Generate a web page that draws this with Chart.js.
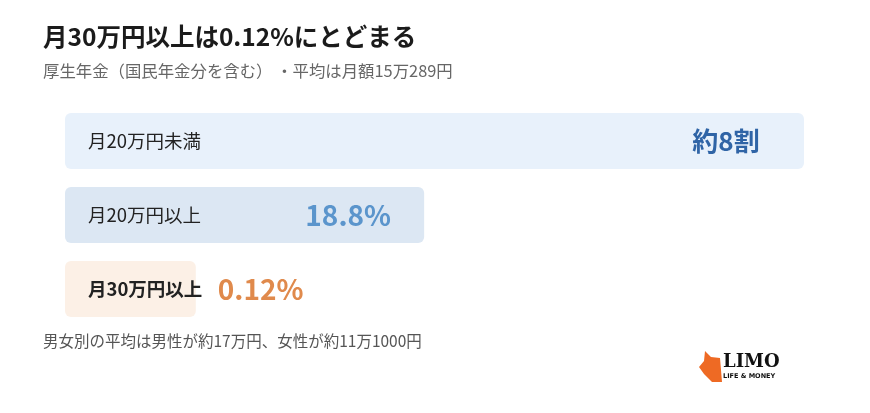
<!DOCTYPE html>
<html lang="ja">
<head>
  <meta charset="UTF-8" />
  <title>月30万円以上は0.12%にとどまる</title>
  <script src="https://cdn.jsdelivr.net/npm/chart.js"></script>
  <style>
    body { margin: 0; background: #fff; }
    #wrap { position: relative; width: 870px; height: 413px; }
  </style>
</head>
<body>
  <div id="wrap"><canvas id="chart" width="870" height="413"></canvas></div>

  <script>
    // データ
    const categories = ['月20万円未満', '月20万円以上', '月30万円以上'];
    const valueLabels = ['約8割', '18.8%', '0.12%'];
    // 画像上のバーの見た目の長さ（横軸100に対する割合）
    const barLengths = [100, 48.6, 17.7];

    const barColors = ['#e8f1fb', '#dce7f3', '#fcf0e6'];
    const valueColors = ['#2f64a6', '#5b95cc', '#e08a4c'];

    // タイトル・注記・ロゴの描画
    const decorPlugin = {
      id: 'decor',
      beforeDraw(chart) {
        const c = chart.ctx;
        c.save();
        c.fillStyle = '#fff';
        c.fillRect(0, 0, chart.width, chart.height);
        c.restore();
      },
      afterDraw(chart) {
        const c = chart.ctx;
        const font = '"Noto Sans CJK JP", "Noto Sans", sans-serif';
        c.save();
        c.textBaseline = 'middle';
        c.textAlign = 'left';

        c.fillStyle = '#1b1b1b';
        c.font = 'bold 24.5px ' + font;
        c.fillText('月30万円以上は0.12%にとどまる', 43, 37);

        c.fillStyle = '#666';
        c.font = '16.4px ' + font;
        c.fillText('厚生年金（国民年金分を含む） ・平均は月額15万289円', 43, 71);

        c.fillStyle = '#555';
        c.font = '15.5px ' + font;
        c.fillText('男女別の平均は男性が約17万円、女性が約11万1000円', 43, 341);

        // LIMO ロゴ
        c.fillStyle = '#ee6a24';
        c.beginPath();
        c.moveTo(705, 351);
        c.lineTo(711, 357);
        c.lineTo(720, 358);
        c.lineTo(722, 382);
        c.lineTo(712, 382);
        c.lineTo(704, 374);
        c.lineTo(699, 367);
        c.lineTo(704, 361);
        c.closePath();
        c.fill();
        c.fillStyle = '#111';
        c.font = 'bold 18px "DejaVu Serif", serif';
        c.fillText('LIMO', 723, 362);
        c.font = 'bold 6.5px "DejaVu Sans", sans-serif';
        c.fillText('LIFE & MONEY', 723, 376);
        c.restore();
      }
    };

    // バー内のカテゴリ名と値ラベル
    const labelPlugin = {
      id: 'barLabels',
      afterDatasetsDraw(chart) {
        const c = chart.ctx;
        const font = '"Noto Sans CJK JP", "Noto Sans", sans-serif';
        const meta = chart.getDatasetMeta(0);
        c.save();
        c.textBaseline = 'middle';
        meta.data.forEach((bar, i) => {
          const left = bar.base;
          c.fillStyle = '#222';
          c.textAlign = 'left';
          c.font = (i === 2 ? 'bold ' : '') + '18.5px ' + font;
          c.fillText(categories[i], left + 23, bar.y);

          c.fillStyle = valueColors[i];
          if (i === 0) {
            c.font = 'bold 26px ' + font;
            c.textAlign = 'center';
            c.fillText(valueLabels[i], bar.x - 78, bar.y);
          } else if (i === 1) {
            c.font = 'bold 28px ' + font;
            c.textAlign = 'center';
            c.fillText(valueLabels[i], bar.x - 76, bar.y);
          } else {
            c.font = 'bold 28px ' + font;
            c.textAlign = 'left';
            c.fillText(valueLabels[i], bar.x + 22, bar.y);
          }
        });
        c.restore();
      }
    };

    new Chart(document.getElementById('chart'), {
      type: 'bar',
      data: {
        labels: categories,
        datasets: [{
          data: barLengths,
          backgroundColor: barColors,
          borderRadius: 6,
          borderSkipped: false,
          categoryPercentage: 1,
          barPercentage: 0.757
        }]
      },
      options: {
        indexAxis: 'y',
        responsive: false,
        animation: false,
        layout: { padding: { left: 65, right: 66, top: 104, bottom: 87 } },
        plugins: {
          legend: { display: false },
          tooltip: { enabled: false }
        },
        scales: {
          x: { display: false, min: 0, max: 100 },
          y: { display: false }
        }
      },
      plugins: [decorPlugin, labelPlugin]
    });
  </script>
</body>
</html>
